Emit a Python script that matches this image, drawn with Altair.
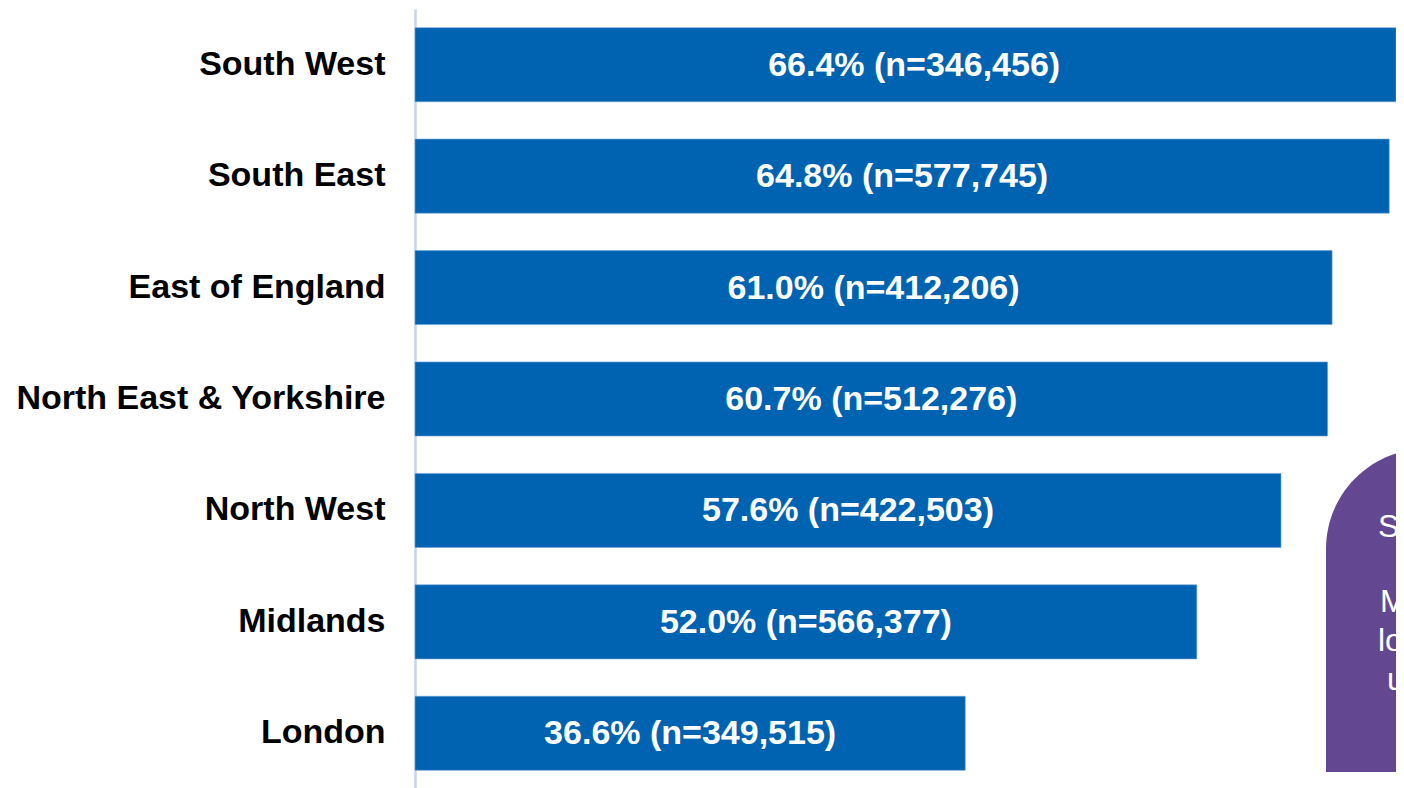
import altair as alt
import pandas as pd

regions = ["South West", "South East", "East of England", "North East & Yorkshire",
           "North West", "Midlands", "London"]
uptake = [66.4, 64.8, 61.0, 60.7, 57.6, 52.0, 36.6]
counts = ["346,456", "577,745", "412,206", "512,276", "422,503", "566,377", "349,515"]

note_lines = ["South West highest uptake", "Midlands and London", "lower than average", "uptake"]

df = pd.DataFrame({
    "region": regions,
    "uptake": uptake,
    "half": [v / 2 for v in uptake],
    "label": [f"{v:.1f}% (n={c})" for v, c in zip(uptake, counts)],
})

FONT = "Liberation Sans"
BLUE = "#0063B1"
PURPLE = "#634790"

y_enc = alt.Y(
    "region:N",
    sort=regions,
    title=None,
    scale=alt.Scale(paddingInner=0.335, paddingOuter=0.1675),
    axis=alt.Axis(
        labelFont=FONT, labelFontWeight="bold", labelFontSize=34, labelColor="#000000",
        labelPadding=30, labelLimit=700, ticks=False, grid=False,
        domainColor="#c8d5ea", domainWidth=2.5,
    ),
)
x_scale = alt.Scale(domain=[0, 65.25], clamp=True, nice=False, zero=True)

bars = alt.Chart(df).mark_bar(color=BLUE, stroke="#6fa3d6", strokeWidth=0.6).encode(
    x=alt.X("uptake:Q", scale=x_scale, axis=None, title=None),
    y=y_enc,
)

labels = alt.Chart(df).mark_text(
    font=FONT, fontWeight="bold", fontSize=34, color="white", align="center", baseline="middle", dy=1
).encode(
    x=alt.X("half:Q", scale=x_scale),
    y=alt.Y("region:N", sort=regions),
    text="label:N",
)

box_df = pd.DataFrame({"k": [1]})
box = alt.Chart(box_df).mark_rect(color=PURPLE, cornerRadiusTopLeft=100, clip=True).encode(
    x=alt.value(911), x2=alt.value(1200), y=alt.value(440), y2=alt.value(763)
)

note_layers = []
note_pos = [(963, 518), (965, 593), (963, 632), (972, 671)]
for line, (px, py) in zip(note_lines, note_pos):
    note_layers.append(
        alt.Chart(box_df).mark_text(
            font=FONT, fontSize=32, color="white", align="left", baseline="middle", text=line, clip=True
        ).encode(x=alt.value(px), y=alt.value(py))
    )

chart = alt.layer(bars, labels, box, *note_layers).properties(
    width=981, height=780,
    autosize=alt.AutoSizeParams(type="none"),
    padding={"left": 407, "top": 1, "right": 0, "bottom": 0},
).configure(background="white").configure_view(stroke=None, strokeWidth=0)

chart.save("out.html", embed_options={"renderer": "svg", "actions": False})
